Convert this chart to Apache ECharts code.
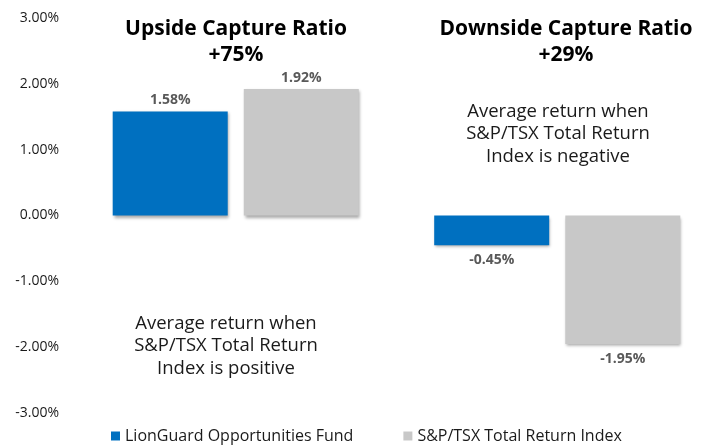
<!DOCTYPE html>
<html>
<head>
<meta charset="utf-8">
<script src="https://cdn.jsdelivr.net/npm/echarts@6/dist/echarts.min.js"></script>
<style>
  html, body { margin: 0; padding: 0; background: #fff; overflow: hidden; }
  #chart { width: 720px; height: 448px; }
</style>
</head>
<body>
<div id="chart"></div>
<script>
  // categories and values (percent)
  var categories = ['Upside Capture Ratio', 'Downside Capture Ratio'];
  var fundValues = [1.58, -0.45];
  var indexValues = [1.92, -1.95];
  var seriesNames = ['LionGuard Opportunities Fund', 'S&P/TSX Total Return Index'];
  var panelTitles = ['Upside Capture Ratio\n+75%', 'Downside Capture Ratio\n+29%'];
  var notes = ['Average return when\nS&P/TSX Total Return\nIndex is positive',
               'Average return when\nS&P/TSX Total Return\nIndex is negative'];

  var font = '"Open Sans", "Liberation Sans", sans-serif';

  // negative values get their label under the bar
  function toItems(arr) {
    return arr.map(function (v) {
      return {
        value: v,
        label: v < 0 ? { position: 'bottom', distance: 8 } : { position: 'top', distance: 4 }
      };
    });
  }

  var barShadow = {
    shadowColor: 'rgba(0,0,0,0.35)',
    shadowBlur: 3,
    shadowOffsetX: 1,
    shadowOffsetY: 2
  };

  var valueLabel = {
    show: true,
    fontFamily: font,
    fontSize: 14,
    fontWeight: 'bold',
    color: '#595959',
    formatter: function (p) { return p.value.toFixed(2) + '%'; }
  };

  var chart = echarts.init(document.getElementById('chart'));
  chart.setOption({
    animation: false,
    backgroundColor: '#fff',
    // plot is a bit wider than the window, the div is cropped at 708px
    grid: { left: 75, right: 2, top: 18, bottom: 35 },
    legend: {
      data: seriesNames,
      left: 111,
      top: 428,
      padding: 0,
      itemWidth: 9,
      itemHeight: 9,
      itemGap: 50,
      icon: 'rect',
      textStyle: { fontFamily: font, fontSize: 16, color: '#1a1a1a' }
    },
    xAxis: {
      type: 'category',
      data: categories,
      axisLine: { show: false },
      axisTick: { show: false },
      axisLabel: { show: false }
    },
    yAxis: {
      type: 'value',
      min: -3,
      max: 3,
      interval: 1,
      splitLine: { show: false },
      axisLine: { show: false },
      axisTick: { show: false },
      axisLabel: {
        margin: 16,
        fontFamily: font,
        fontSize: 14,
        color: '#1a1a1a',
        formatter: function (v) { return v.toFixed(2) + '%'; }
      }
    },
    series: [
      {
        name: seriesNames[0],
        type: 'bar',
        barWidth: 115,
        barGap: '14%',
        data: toItems(fundValues),
        itemStyle: Object.assign({ color: '#0070C0' }, barShadow),
        label: valueLabel
      },
      {
        name: seriesNames[1],
        type: 'bar',
        barWidth: 115,
        barGap: '14%',
        data: toItems(indexValues),
        itemStyle: Object.assign({ color: '#C8C8C8' }, barShadow),
        label: valueLabel
      }
    ],
    graphic: [
      {
        type: 'text', x: 236, y: 42,
        style: {
          text: panelTitles[0], textAlign: 'center', textVerticalAlign: 'middle',
          font: 'bold 21px ' + font, lineHeight: 26, fill: '#000'
        }
      },
      {
        type: 'text', x: 566, y: 42,
        style: {
          text: panelTitles[1], textAlign: 'center', textVerticalAlign: 'middle',
          font: 'bold 21px ' + font, lineHeight: 26, fill: '#000'
        }
      },
      {
        type: 'text', x: 226, y: 346,
        style: {
          text: notes[0], textAlign: 'center', textVerticalAlign: 'middle',
          font: '18.5px ' + font, lineHeight: 22.5, fill: '#1a1a1a'
        }
      },
      {
        type: 'text', x: 558, y: 134,
        style: {
          text: notes[1], textAlign: 'center', textVerticalAlign: 'middle',
          font: '18.5px ' + font, lineHeight: 22.5, fill: '#1a1a1a'
        }
      }
    ]
  });
</script>
</body>
</html>
